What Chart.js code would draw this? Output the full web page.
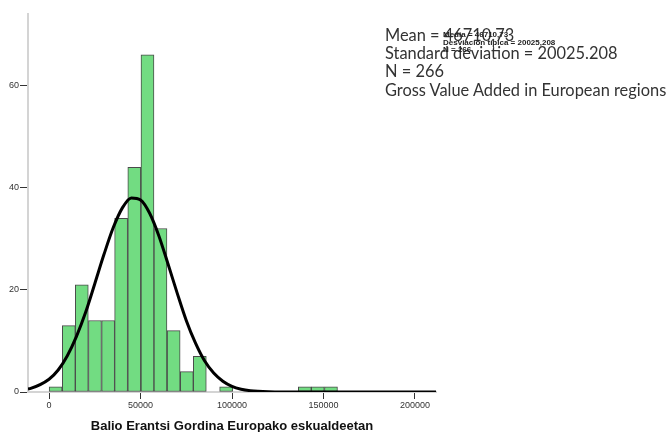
<!DOCTYPE html>
<html>
<head>
<meta charset="utf-8">
<script src="https://cdn.jsdelivr.net/npm/chart.js@4.4.1/dist/chart.umd.min.js"></script>
<style>
  body { margin: 0; background: #fff; }
  #wrap { position: relative; width: 672px; height: 432px; }
  .stats { position: absolute; left: 385px; top: 26px; font-family: Lato, "Open Sans", sans-serif; font-weight: 400; font-size: 16.4px; line-height: 18.2px; color: #333; white-space: nowrap; }
  .stats-es { position: absolute; left: 443px; top: 31px; font-family: "Liberation Sans", Arial, sans-serif; font-weight: bold; font-size: 8px; line-height: 7.6px; color: #222; white-space: nowrap; }
</style>
</head>
<body>
<div id="wrap">
  <canvas id="histChart" width="672" height="432"></canvas>
  <div class="stats">Mean = 46710.73<br>Standard deviation = 20025.208<br>N = 266<br>Gross Value Added in European regions</div>
  <div class="stats-es">Media = 46710,73<br>Desviación típica = 20025,208<br>N = 266</div>
</div>
<script>
// histogram bins (centres) and counts
const binCenters = [3600, 10800, 17900, 25100, 32300, 39400, 46600, 53800, 60900, 68100, 75300,
                    82400, 89600, 96800, 103900, 111100, 118300, 125400, 132600, 139800, 146900, 154100];
const binCounts = [1, 13, 21, 14, 14, 34, 44, 66, 32, 12, 4, 7, 0, 1, 0, 0, 0, 0, 0, 1, 1, 1];

// normal curve, points
const curveX = [-11500, -10000, 0, 5000, 10000, 15000, 20000, 25000, 30000, 35000, 40000, 45000, 50000,
                55000, 60000, 65000, 70000, 75000, 80000, 85000, 90000, 95000, 100000, 105000, 110000,
                120000, 130000, 150000, 180000, 211500];
const curveY = [0.6, 0.7, 2.5, 4.3, 7.1, 10.9, 15.6, 21.2, 26.9, 32.1, 36.0, 38.0, 37.6,
                35.0, 30.6, 25.1, 19.4, 14.0, 9.6, 6.1, 3.7, 2.1, 1.1, 0.55, 0.26,
                0.05, 0.01, 0, 0, 0];

const xTicks = [0, 50000, 100000, 150000, 200000];
const yTicks = [0, 20, 40, 60];
const xTitle = 'Balio Erantsi Gordina Europako eskualdeetan';

const barData = binCenters.map((x, i) => ({ x: x, y: binCounts[i] }));
const lineData = curveX.map((x, i) => ({ x: x, y: curveY[i] }));

const ctx = document.getElementById('histChart').getContext('2d');
new Chart(ctx, {
    type: 'bar',
    data: {
        datasets: [
            {
                type: 'line',
                data: lineData,
                borderColor: '#000',
                borderWidth: 3,
                pointRadius: 0,
                cubicInterpolationMode: 'monotone',
                order: 0
            },
            {
                type: 'bar',
                data: barData,
                backgroundColor: '#72dc82',
                borderColor: '#4a4a4a',
                borderWidth: 1,
                borderSkipped: false,
                barPercentage: 1,
                categoryPercentage: 1,
                order: 1
            }
        ]
    },
    options: {
        responsive: false,
        animation: false,
        devicePixelRatio: 1,
        layout: { padding: { left: 0, top: 14, right: 236, bottom: 0 } },
        plugins: { legend: { display: false }, tooltip: { enabled: false } },
        scales: {
            x: {
                type: 'linear',
                min: -11500,
                max: 211500,
                offset: false,
                afterFit: s => { s.height = 40; },
                afterBuildTicks: s => { s.ticks = xTicks.map(v => ({ value: v })); },
                ticks: {
                    callback: v => String(v),
                    font: { family: 'Liberation Sans', size: 9 },
                    color: '#333',
                    padding: 1,
                    maxRotation: 0,
                    autoSkip: false
                },
                grid: { offset: false, drawOnChartArea: false, drawTicks: true, tickLength: 7, color: '#333' },
                border: { color: '#d4d4d4', width: 2 },
                title: {
                    display: true,
                    text: xTitle,
                    font: { family: 'Liberation Sans', size: 13, weight: 'bold' },
                    color: '#111',
                    padding: { top: 9, bottom: -2 }
                }
            },
            y: {
                min: 0,
                max: 74,
                afterFit: s => { s.width = 28; },
                afterBuildTicks: s => { s.ticks = yTicks.map(v => ({ value: v })); },
                ticks: {
                    font: { family: 'Liberation Sans', size: 9 },
                    color: '#333',
                    padding: 1
                },
                grid: { drawOnChartArea: false, drawTicks: true, tickLength: 8, color: '#333' },
                border: { color: '#d4d4d4', width: 2 }
            }
        }
    }
});
</script>
</body>
</html>
